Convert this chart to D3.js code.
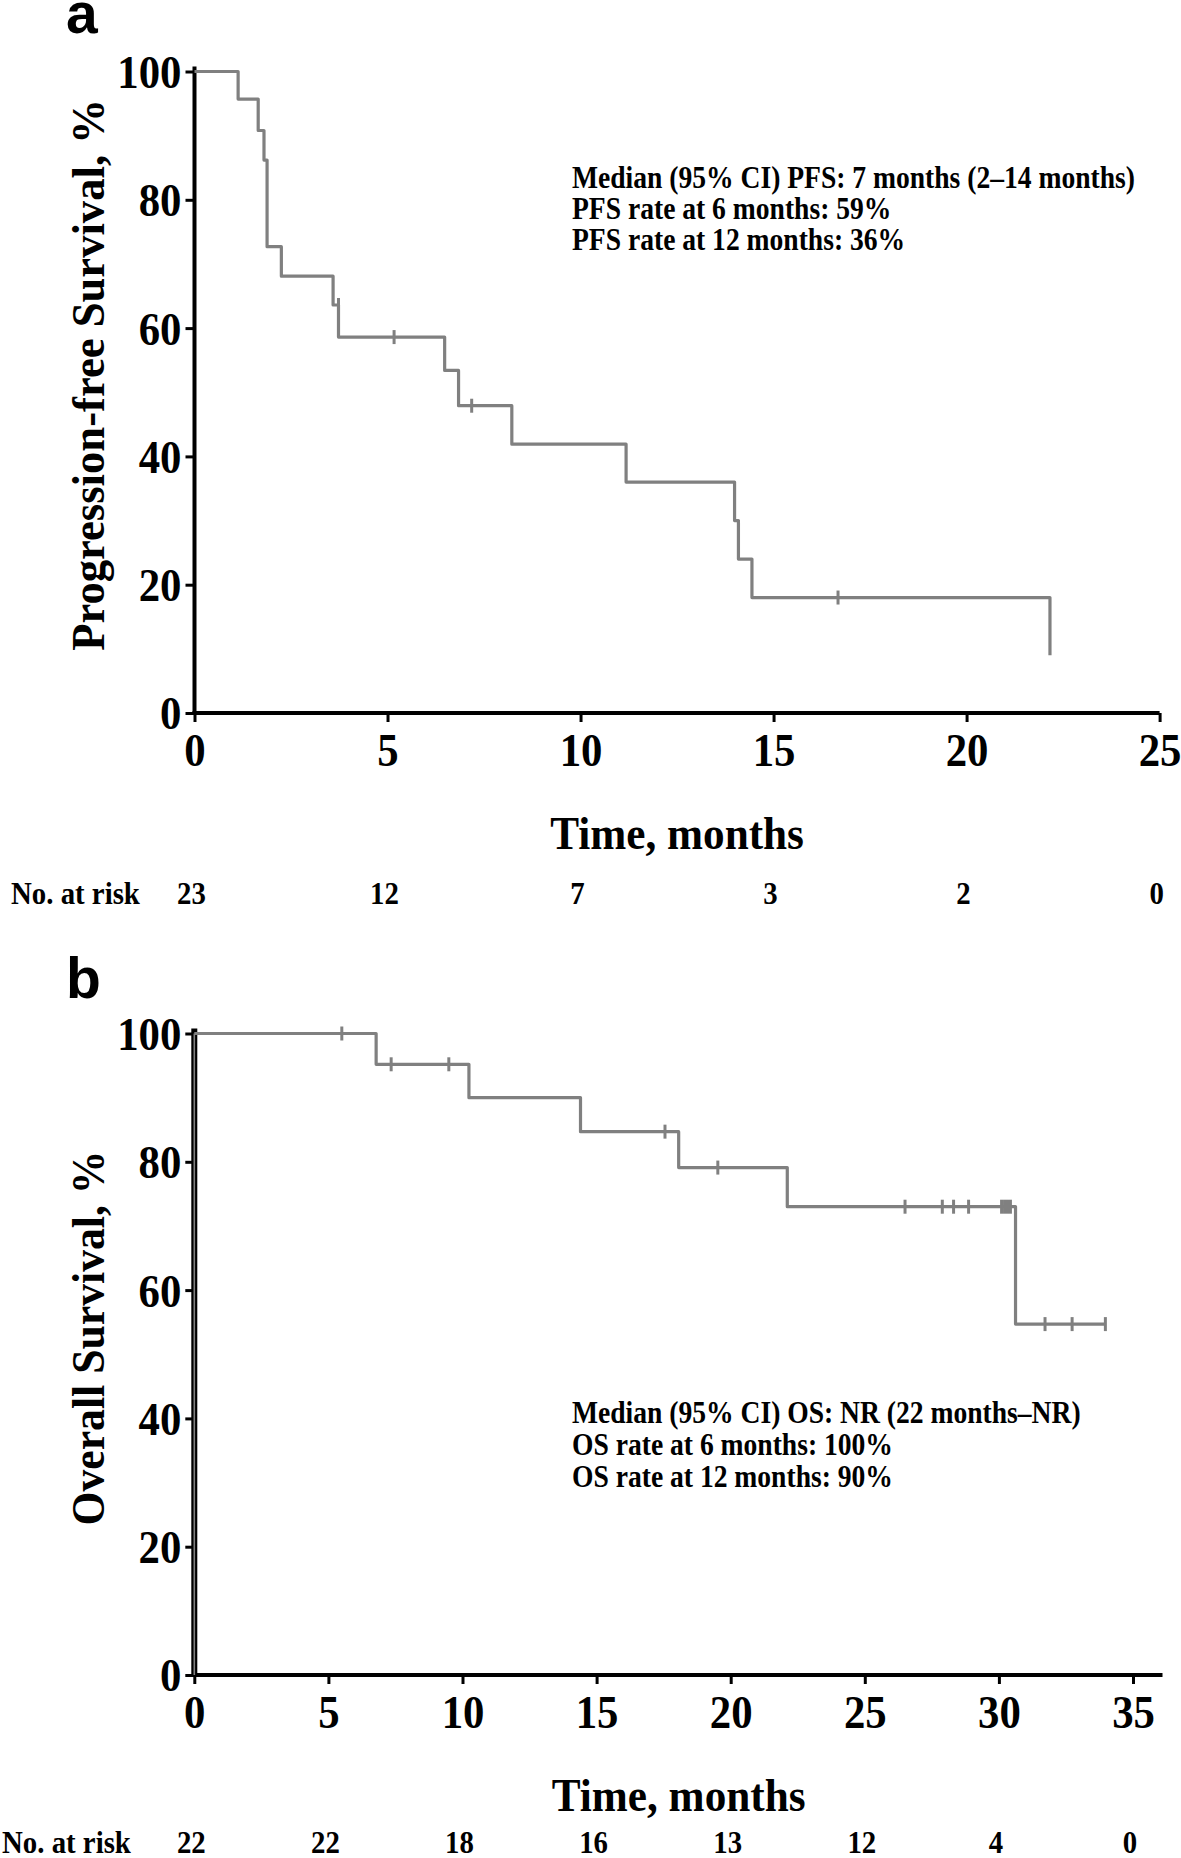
<!DOCTYPE html>
<html>
<head>
<meta charset="utf-8">
<script src="https://cdn.jsdelivr.net/npm/d3@7"></script>
<style>
  html, body { margin: 0; padding: 0; background: #fff; }
  svg { display: block; }
  text { font-family: "Liberation Serif", "Times New Roman", serif; font-weight: bold; fill: #000; }
</style>
</head>
<body>
<svg id="chart" width="1181" height="1858"></svg>
<script>
// ---------- DATA ----------
// Panel a: Progression-free survival (time in months, survival %)
const pfsTimes  = [0, 1.13, 1.65, 1.80, 1.88, 2.25, 3.59, 3.73, 6.48, 6.84, 8.22, 11.18, 13.99, 14.09, 14.44, 22.16];
const pfsValues = [100, 95.7, 90.8, 86.2, 72.7, 68.1, 63.6, 58.6, 53.4, 47.9, 41.9, 36.0, 30.0, 24.0, 18.0, 9.0];
const pfsCensorTimes  = [3.73, 5.17, 7.18, 16.67];
const pfsCensorValues = [63.6, 58.6, 47.9, 18.0];
const pfsXTicks = [0, 5, 10, 15, 20, 25];
const pfsYTicks = [0, 20, 40, 60, 80, 100];
const pfsAtRisk = [23, 12, 7, 3, 2, 0];
const pfsNotes = [
  "Median (95% CI) PFS: 7 months (2\u201314 months)",
  "PFS rate at 6 months: 59%",
  "PFS rate at 12 months: 36%"
];

// Panel b: Overall survival
const osTimes  = [0, 6.78, 10.24, 14.40, 18.06, 22.11, 30.62, 33.97];
const osValues = [100, 95.2, 90.0, 84.7, 79.1, 73.0, 54.7, 54.7];
const osCensorTimes  = [5.50, 7.34, 9.49, 17.55, 19.52, 26.50, 27.89, 28.31, 28.87, 30.10, 30.21, 30.32, 30.43, 31.72, 32.73, 33.97];
const osCensorValues = [100, 95.2, 95.2, 84.7, 79.1, 73.0, 73.0, 73.0, 73.0, 73.0, 73.0, 73.0, 73.0, 54.7, 54.7, 54.7];
const osXTicks = [0, 5, 10, 15, 20, 25, 30, 35];
const osYTicks = [0, 20, 40, 60, 80, 100];
const osAtRisk = [22, 22, 18, 16, 13, 12, 4, 0];
const osNotes = [
  "Median (95% CI) OS: NR (22 months\u2013NR)",
  "OS rate at 6 months: 100%",
  "OS rate at 12 months: 90%"
];

// ---------- DRAWING ----------
const svg = d3.select("#chart");
const GRAY = "#808080";
const TICK_FS = 47, TICK_SX = 0.91;

function panel(cfg) {
  const g = svg.append("g");
  const x = d3.scaleLinear().domain(cfg.xDomain).range([cfg.x0, cfg.x1]);
  const y = d3.scaleLinear().domain([0, 100]).range([cfg.y0, cfg.y100]);

  // panel letter
  g.append("text").attr("x", 66).attr("y", cfg.letterY)
    .style("font-family", "'Liberation Sans', Arial, sans-serif")
    .style("font-size", "57px").text(cfg.letter);

  // y axis
  const yAxis = d3.axisLeft(y).tickValues(cfg.yTicks).tickSize(9).tickPadding(4).tickFormat(d3.format("d"));
  const ya = g.append("g").attr("transform", `translate(${cfg.x0},0)`).call(yAxis);
  ya.select(".domain").remove();
  ya.selectAll(".tick line").attr("stroke", "#000").attr("stroke-width", 3);
  ya.selectAll(".tick text")
    .attr("x", -13 / TICK_SX).attr("dy", "0.34em")
    .attr("transform", `scale(${TICK_SX},1)`)
    .style("font-size", TICK_FS + "px")
    .style("font-family", "'Liberation Serif', serif").style("font-weight", "bold");
  g.append("line").attr("x1", cfg.x0).attr("x2", cfg.x0)
    .attr("y1", y(100) - 5).attr("y2", y(0) + 2)
    .attr("stroke", "#000").attr("stroke-width", cfg.yAxisWidth);

  // x axis
  const xAxis = d3.axisBottom(x).tickValues(cfg.xTicks).tickSize(9).tickFormat(d3.format("d"));
  const xa = g.append("g").attr("transform", `translate(0,${cfg.y0})`).call(xAxis);
  xa.select(".domain").remove();
  xa.selectAll(".tick line").attr("stroke", "#000").attr("stroke-width", 3);
  xa.selectAll(".tick text")
    .attr("y", 53).attr("dy", 0)
    .attr("transform", `scale(${TICK_SX},1)`)
    .style("font-size", TICK_FS + "px")
    .style("font-family", "'Liberation Serif', serif").style("font-weight", "bold");
  g.append("line").attr("x1", cfg.x0 - 2).attr("x2", x(cfg.xAxisEnd))
    .attr("y1", cfg.y0).attr("y2", cfg.y0)
    .attr("stroke", "#000").attr("stroke-width", 4);

  // extra vertical at t=0 (panel b)
  if (cfg.zeroLine) {
    g.append("line").attr("x1", x(0)).attr("x2", x(0))
      .attr("y1", y(100)).attr("y2", y(0))
      .attr("stroke", GRAY).attr("stroke-width", 1.6);
  }

  // KM curve
  const pts = cfg.times.map((t, i) => [t, cfg.values[i]]);
  const line = d3.line().x(d => x(d[0])).y(d => y(d[1])).curve(d3.curveStepAfter);
  g.append("path").datum(pts).attr("d", line)
    .attr("fill", "none").attr("stroke", GRAY).attr("stroke-width", 3.2)
    .attr("stroke-linejoin", "round");

  // censor marks
  g.selectAll(".cens").data(cfg.cTimes).join("line")
    .attr("x1", d => x(d)).attr("x2", d => x(d))
    .attr("y1", (d, i) => y(cfg.cValues[i]) - 7)
    .attr("y2", (d, i) => y(cfg.cValues[i]) + 7)
    .attr("stroke", GRAY).attr("stroke-width", 3);

  // y title
  g.append("text")
    .attr("transform", `translate(${cfg.yTitleX},${cfg.yTitleY}) rotate(-90) scale(0.95,1)`)
    .attr("text-anchor", "middle").style("font-size", cfg.yTitleSize + "px")
    .text(cfg.yTitle);

  // x title
  g.append("text")
    .attr("transform", `translate(${(cfg.x0 + cfg.x1x) / 2},${cfg.y0 + 136}) scale(0.94,1)`)
    .attr("text-anchor", "middle").style("font-size", "46px").text("Time, months");

  // at risk row
  g.append("text")
    .attr("transform", `translate(${cfg.riskLabelX},${cfg.riskY}) scale(0.93,1)`)
    .style("font-size", "31px").text("No. at risk");
  g.selectAll(".risk").data(cfg.atRisk).join("text")
    .attr("transform", (d, i) => `translate(${x(cfg.xTicks[i]) - 3},${cfg.riskY}) scale(0.93,1)`)
    .attr("text-anchor", "middle").style("font-size", "31px").text(d => d);

  // annotations
  g.selectAll(".note").data(cfg.notes).join("text")
    .attr("transform", (d, i) => `translate(572,${cfg.noteY + i * cfg.noteDy}) scale(0.89,1)`)
    .style("font-size", "31px").text(d => d);
}

panel({
  letter: "a", letterY: 33,
  xDomain: [0, 25], x0: 194.5, x1: 1159.6, x1x: 1159.6, xAxisEnd: 25,
  y0: 713, y100: 71.5, yAxisWidth: 4,
  xTicks: pfsXTicks, yTicks: pfsYTicks,
  times: pfsTimes, values: pfsValues, cTimes: pfsCensorTimes, cValues: pfsCensorValues,
  yTitle: "Progression-free Survival, %", yTitleX: 104, yTitleY: 375, yTitleSize: 47,
  atRisk: pfsAtRisk, riskY: 904, riskLabelX: 11,
  notes: pfsNotes, noteY: 188, noteDy: 31
});

panel({
  letter: "b", letterY: 998,
  xDomain: [0, 35], x0: 194.3, x1: 1133, x1x: 1163, xAxisEnd: 36.1,
  y0: 1675, y100: 1033.5, yAxisWidth: 6, zeroLine: true,
  xTicks: osXTicks, yTicks: osYTicks,
  times: osTimes, values: osValues, cTimes: osCensorTimes, cValues: osCensorValues,
  yTitle: "Overall Survival, %", yTitleX: 104, yTitleY: 1338, yTitleSize: 46,
  atRisk: osAtRisk, riskY: 1853, riskLabelX: 2,
  notes: osNotes, noteY: 1423, noteDy: 32
});
</script>
</body>
</html>
